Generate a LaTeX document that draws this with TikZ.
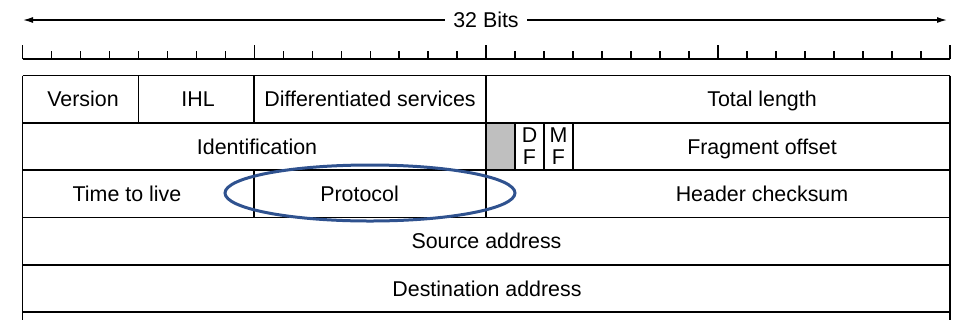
\documentclass[tikz,border=0pt]{standalone}
\usepackage{fontspec}
\setmainfont{Liberation Sans}
\usetikzlibrary{arrows.meta}
\definecolor{ringblue}{RGB}{47,82,143}
\definecolor{padgray}{gray}{0.75}

\begin{document}
\begin{tikzpicture}[x=0.5pt,y=0.5pt,
  field/.style={font=\fontsize{10.7}{11}\selectfont,inner sep=0pt,align=center,
    text height=7.7pt,text depth=0pt},
  flag/.style={field,text height=,text depth=},
  rule/.style={line width=0.75pt},
  grid/.style={line width=0.9pt}]
\useasboundingbox (0,0) rectangle (977,334);
% one bit is 28.98 wide, bit 0 starts at x=22.5
\def\bw{28.98}

% 32 bit arrow
\node[field,inner xsep=4pt] (bits) at (486,314) {32 Bits};
\coordinate (arrL) at (23,314);
\coordinate (arrR) at (947,314);
\draw[rule,line width=0.65pt,-{Latex[length=5pt,width=3pt]}] (bits.west) -- (arrL);
\draw[rule,line width=0.65pt,-{Latex[length=5pt,width=3pt]}] (bits.east) -- (arrR);

% ruler
\draw[rule] (22.5,275) -- (22.5+32*\bw,275);
\foreach \b in {0,...,32}
  \draw[rule] (22.5+\b*\bw,275) -- ++(0,8);
\foreach \b in {0,8,16,24,32}
  \draw[rule] (22.5+\b*\bw,275) -- ++(0,14);

% unused flag bit
\fill[padgray] (22.5+16*\bw,211.2) rectangle (22.5+17*\bw,163.9);

% frame
\foreach \r in {0,...,5}
  \draw[grid] (22.5,\r*-47.3+258.5) -- (22.5+32*\bw,\r*-47.3+258.5);
\draw[grid] (22.5,258.5) -- (22.5,14);
\draw[grid] (22.5+32*\bw,258.5) -- (22.5+32*\bw,14);
\foreach \b in {4,8,16}
  \draw[grid] (22.5+\b*\bw,258.5) -- (22.5+\b*\bw,211.2);
\foreach \b in {16,17,18,19}
  \draw[grid] (22.5+\b*\bw,211.2) -- (22.5+\b*\bw,163.9);
\foreach \b in {8,16}
  \draw[grid] (22.5+\b*\bw,163.9) -- (22.5+\b*\bw,116.6);

% fields
\node[field] (version) at (83,235) {Version};
\node[field] (ihl) at (198,235) {IHL};
\node[field] (dsvc) at (370,235) {Differentiated services};
\node[field] (totlen) at (762,235) {Total length};
\node[field] (ident) at (257,187.5) {Identification};
\node[flag] (df) at (529.5,187.5) {D\\F};
\node[flag] (mf) at (558.5,187.5) {M\\F};
\node[field] (fragoff) at (762,187.5) {Fragment offset};
\node[field] (ttl) at (127,140.2) {Time to live};
\node[field] (proto) at (359.5,140.2) {Protocol};
\node[field] (hdrsum) at (762,140.2) {Header checksum};
\node[field] (srcaddr) at (486.5,93) {Source address};
\node[field] (dstaddr) at (487,45.6) {Destination address};

% ring round the protocol field
\draw[ringblue,line width=1.5pt] (370,141) ellipse [x radius=145,y radius=28];
\end{tikzpicture}
\end{document}
